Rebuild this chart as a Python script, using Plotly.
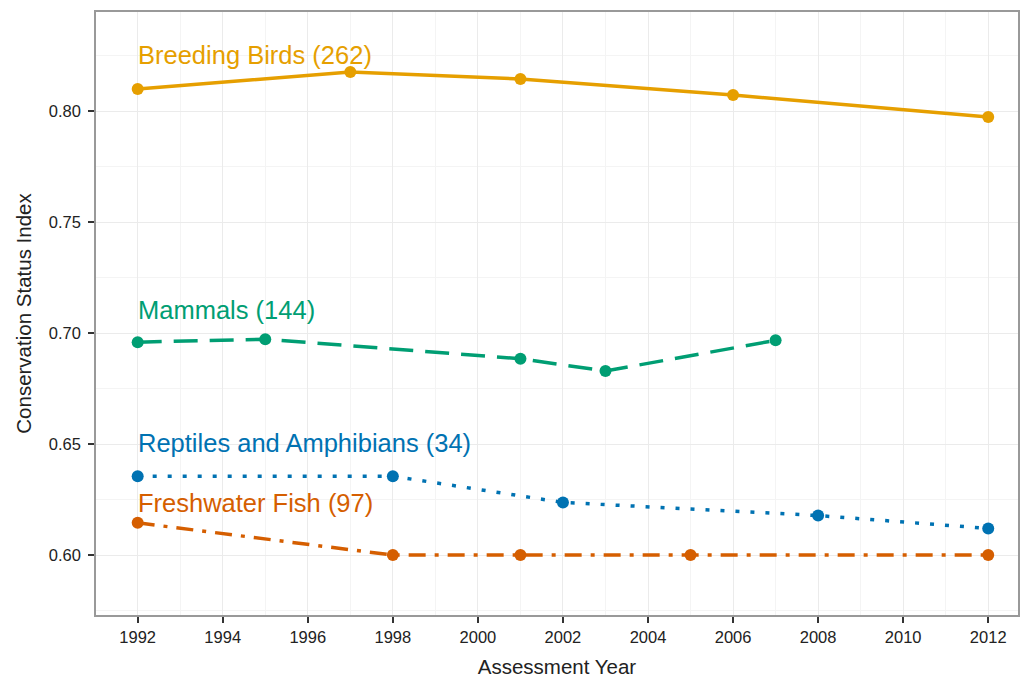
import plotly.graph_objects as go

birds_years = [1992, 1997, 2001, 2006, 2012]
birds_vals = [0.8099, 0.8176, 0.8144, 0.8072, 0.7973]
mammal_years = [1992, 1995, 2001, 2003, 2007]
mammal_vals = [0.6959, 0.6972, 0.6884, 0.6829, 0.6967]
rept_years = [1992, 1998, 2002, 2008, 2012]
rept_vals = [0.6355, 0.6355, 0.6237, 0.6178, 0.6120]
fish_years = [1992, 1998, 2001, 2005, 2012]
fish_vals = [0.6145, 0.6000, 0.6000, 0.6000, 0.6000]

series = [
    ("Breeding Birds (262)", birds_years, birds_vals, "#E69F00", "solid", 0.8252),
    ("Mammals (144)", mammal_years, mammal_vals, "#009E73", "24px,12px", 0.7104),
    ("Reptiles and Amphibians (34)", rept_years, rept_vals, "#0072B2", "4px,11px", 0.6505),
    ("Freshwater Fish (97)", fish_years, fish_vals, "#D55E00", "17px,9px,4px,9px", 0.6234),
]

fig = go.Figure()
for name, xs, ys, col, dash, ly in series:
    fig.add_trace(go.Scatter(x=xs, y=ys, mode="lines+markers", name=name,
                             line=dict(color=col, width=3.5, dash=dash),
                             marker=dict(color=col, size=12)))
    fig.add_annotation(x=1992, y=ly, text=name, showarrow=False, xanchor="left",
                       yanchor="middle", xshift=-2,
                       font=dict(size=25.5, color=col, family="Liberation Sans, Arial"))

fig.update_layout(
    width=1020, height=679,
    margin=dict(l=96, r=2, t=12, b=64),
    paper_bgcolor="white", plot_bgcolor="white",
    showlegend=False,
    font=dict(family="Liberation Sans, Arial", color="#222222"),
)
fig.update_xaxes(range=[1991.02, 2012.7], tickvals=list(range(1992, 2013, 2)),
                 automargin=False,
                 showgrid=True, gridcolor="#ebebeb", gridwidth=1,
                 minor=dict(dtick=1, tick0=1991, showgrid=True, gridcolor="#f4f4f4"),
                 showline=True, linecolor="#999999", linewidth=1.5, mirror=True,
                 ticks="outside", ticklen=6, tickcolor="#333333", tickwidth=1.5,
                 tickfont=dict(size=16.5, color="#222222"), zeroline=False,
                 title=dict(text="Assessment Year", font=dict(size=20.5, color="#222222"), standoff=15))
fig.update_yaxes(range=[0.573, 0.8446], tickvals=[0.60, 0.65, 0.70, 0.75, 0.80],
                 ticktext=["0.60", "0.65", "0.70", "0.75", "0.80"],
                 automargin=False,
                 showgrid=True, gridcolor="#ebebeb", gridwidth=1,
                 minor=dict(dtick=0.025, tick0=0.575, showgrid=True, gridcolor="#f4f4f4"),
                 showline=True, linecolor="#999999", linewidth=1.5, mirror=True,
                 ticks="outside", ticklen=6, tickcolor="#333333", tickwidth=1.5,
                 ticklabelstandoff=4,
                 tickfont=dict(size=16.5, color="#222222"), zeroline=False,
                 title=dict(text="Conservation Status Index", font=dict(size=20.5, color="#222222"), standoff=12))

fig.write_html("out.html", config={"displayModeBar": False},
               post_script="document.body.style.margin='0';document.body.style.overflow='hidden';")
